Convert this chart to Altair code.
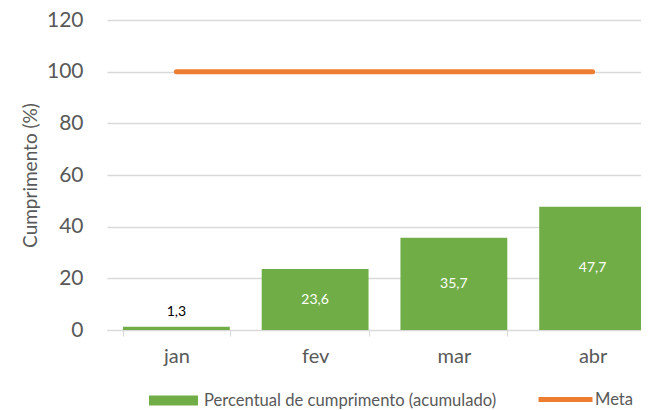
import altair as alt
import pandas as pd

months = ["jan", "fev", "mar", "abr"]
percent = [1.3, 23.6, 35.7, 47.7]
labels = ["1,3", "23,6", "35,7", "47,7"]
meta = [100, 100, 100, 100]
bar_name = "Percentual de cumprimento (acumulado)"
meta_name = "Meta"

df = pd.DataFrame({"mes": months, "v": percent, "lab": labels, "meta": meta,
                   "serie": bar_name, "serie2": meta_name})

FONT = "Lato"
GREY = "#595959"

x = alt.X("mes:N", sort=months, title=None,
          scale=alt.Scale(range=[0, 555], paddingInner=0.23, paddingOuter=0.115),
          axis=alt.Axis(labelFont=FONT, labelFontSize=20, labelColor=GREY, labelAngle=0,
                        labelPadding=10, domainColor="#D9D9D9", tickColor="#D9D9D9",
                        tickSize=6, tickBand="extent", grid=False))
yscale = alt.Scale(domain=[0, 120])
yaxis = alt.Axis(values=[0, 20, 40, 60, 80, 100, 120], labelFont=FONT, labelFontSize=21,
                 labelColor=GREY, labelPadding=24, domain=False, ticks=False,
                 gridColor="#D9D9D9", gridWidth=1.5, titleFont=FONT, titleFontSize=19,
                 titleFontWeight="normal", titleColor=GREY, titlePadding=6)

base = alt.Chart(df)

bars = base.mark_bar().encode(
    x=x,
    y=alt.Y("v:Q", scale=yscale, axis=yaxis, title="Cumprimento (%)"),
    color=alt.Color("serie:N", scale=alt.Scale(domain=[bar_name], range=["#70AD47"]),
                    legend=alt.Legend(title=None, orient="none", legendX=42, legendY=356,
                                      symbolType="M-1,-0.2H1V0.2H-1Z", symbolSize=2401,
                                      symbolStrokeWidth=0, symbolOpacity=1,
                                      labelFont=FONT, labelFontSize=16.6, labelColor=GREY,
                                      labelOffset=6, labelLimit=0, padding=0)),
)

line = base.mark_line(strokeWidth=5, strokeCap="round").encode(
    x=alt.X("mes:N", sort=months),
    y=alt.Y("meta:Q", scale=yscale),
    stroke=alt.Stroke("serie2:N", scale=alt.Scale(domain=[meta_name], range=["#ED7D31"]),
                      legend=alt.Legend(title=None, orient="none", legendX=429, legendY=350,
                                        symbolType="M-1,0H1", symbolSize=2916,
                                        symbolStrokeWidth=5, symbolFillColor="transparent",
                                        labelFont=FONT, labelFontSize=16.6, labelColor=GREY,
                                        labelOffset=0, labelLimit=0, padding=0)),
)

txt_in = base.transform_filter("datum.v >= 10").transform_calculate(
    mid="datum.v / 2").mark_text(font=FONT, fontSize=14, color="white",
                                 baseline="middle").encode(
    x=alt.X("mes:N", sort=months), y=alt.Y("mid:Q", scale=yscale), text="lab:N")

txt_out = base.transform_filter("datum.v < 10").mark_text(
    font=FONT, fontSize=14, color="black", baseline="bottom", dy=-8).encode(
    x=alt.X("mes:N", sort=months), y=alt.Y("v:Q", scale=yscale), text="lab:N")

chart = alt.layer(bars, line, txt_in, txt_out).properties(
    width=534, height=310,
    autosize=alt.AutoSizeParams(type="none"),
    padding={"left": 99, "top": 12, "right": 0, "bottom": 80},
).configure_view(stroke=None)

chart.save("out.html", embed_options={"renderer": "svg", "actions": False})
